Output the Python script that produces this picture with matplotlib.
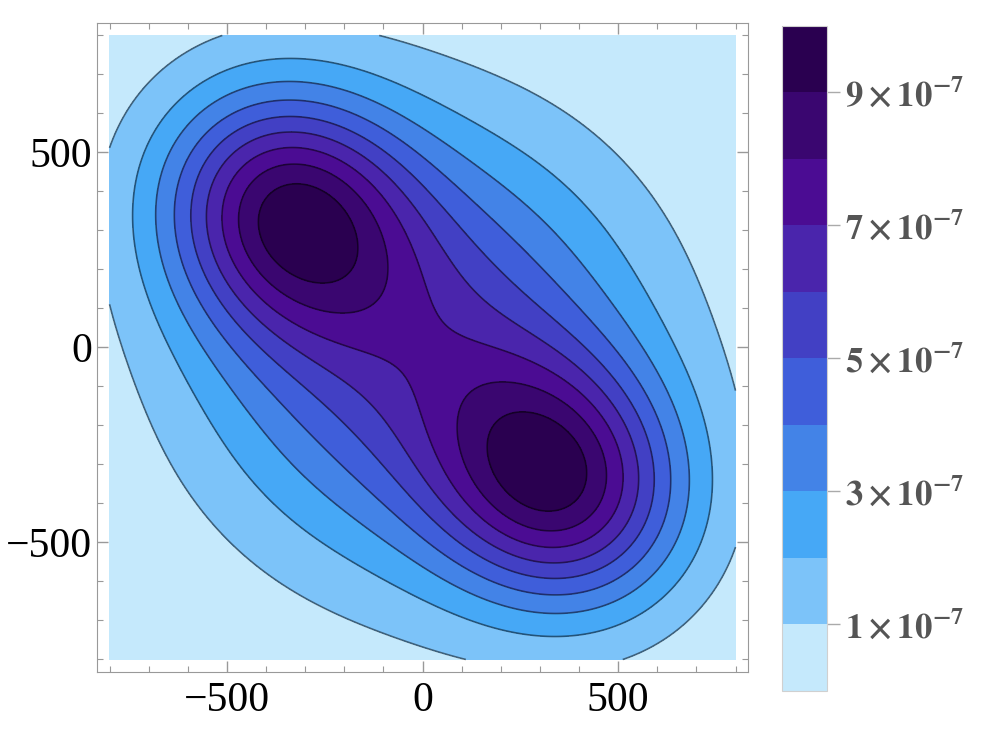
import matplotlib

matplotlib.use("Agg")
import matplotlib.pyplot as plt  # noqa: E402
import numpy as np  # noqa: E402
from matplotlib.colors import BoundaryNorm, ListedColormap  # noqa: E402
from matplotlib.cm import ScalarMappable  # noqa: E402
from matplotlib.ticker import MultipleLocator  # noqa: E402

plt.rcParams["mathtext.fontset"] = "stix"

# two lobes of the density (u across, v along y = -x)
lobe_v = [-495.0, 495.0]
lobe_amp = [0.70e-6, 0.70e-6]
lobe_sigma_along = [225.0, 225.0]
lobe_sigma_across = [205.0, 205.0]

# broad ridge under both lobes
ridge_amp = 0.60e-6
ridge_sigma_along = 395.0
ridge_sigma_across = 370.0

levels = [1e-7, 2e-7, 3e-7, 4e-7, 5e-7, 6e-7, 7e-7, 8e-7, 9e-7]
band_colors = [
    "#c5e9fc", "#7cc3f9", "#46a8f6", "#4383e7", "#3f5eda",
    "#4240c4", "#4a25ac", "#4b0c93", "#3a0670", "#2a0050",
]
cbar_ticks = [1e-7, 3e-7, 5e-7, 7e-7, 9e-7]
cbar_labels = [r"$\mathbf{%d\times10^{-7}}$" % k for k in (1, 3, 5, 7, 9)]


def density(x, y):
    u = (x + y) / np.sqrt(2)
    v = (x - y) / np.sqrt(2)
    z = ridge_amp * np.exp(-v**2 / (2 * ridge_sigma_along**2) - u**2 / (2 * ridge_sigma_across**2))
    for cv, a, sv, su in zip(lobe_v, lobe_amp, lobe_sigma_along, lobe_sigma_across):
        z += a * np.exp(-(v - cv) ** 2 / (2 * sv**2) - u**2 / (2 * su**2))
    return z


grid = np.linspace(-800, 800, 401)
X, Y = np.meshgrid(grid, grid)
Z = density(X, Y)

fig = plt.figure(figsize=(9.84, 7.53), dpi=100)
ax = fig.add_axes([0.0986, 0.1076, 0.6616, 0.8619])
bounds = [-1.0] + levels + [1.0]
ax.contourf(X, Y, Z, levels=bounds, colors=band_colors)
ax.contour(X, Y, Z, levels=levels, colors="black", alpha=0.5, linewidths=1.2)

ax.set_xlim(-832, 832)
ax.set_ylim(-832, 832)
for axis in (ax.xaxis, ax.yaxis):
    axis.set_major_locator(MultipleLocator(500))
    axis.set_minor_locator(MultipleLocator(100))
ax.tick_params(which="both", direction="in", top=True, right=True, color="#999999")
ax.tick_params(which="major", length=8, width=1, labelsize=30)
ax.tick_params(which="minor", length=4.5, width=0.8)
ax.tick_params(axis="x", which="major", pad=7)
ax.tick_params(axis="y", which="major", pad=3.5)
for lab in ax.get_xticklabels() + ax.get_yticklabels():
    lab.set_fontfamily("Liberation Serif")
for sp in ax.spines.values():
    sp.set_color("#999999")

cax = fig.add_axes([0.7947, 0.0830, 0.0457, 0.8830])
cmap = ListedColormap(band_colors)
norm = BoundaryNorm(np.linspace(0, 1e-6, 11), cmap.N)
cb = fig.colorbar(ScalarMappable(norm=norm, cmap=cmap), cax=cax, ticks=cbar_ticks)
cb.ax.set_yticklabels(cbar_labels)
cb.outline.set_edgecolor("#d0d0d0")
cb.ax.tick_params(length=9, width=1, color="#aaaaaa", labelsize=25, labelcolor="#555555", pad=4)
cb.ax.minorticks_off()

fig.savefig("out.png", dpi=100)
plt.close(fig)
